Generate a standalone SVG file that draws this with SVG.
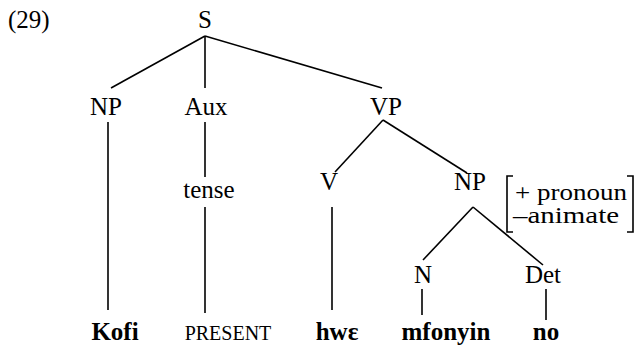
<svg xmlns="http://www.w3.org/2000/svg" width="643" height="345" viewBox="0 0 643 345">
  <style>
    text { font-size: 25px; fill: #000; }
    .lbl { text-anchor: middle; }
    .word { text-anchor: middle; font-weight: bold; }
    .sc { text-anchor: middle; font-size: 20px; }
    .feat { font-size: 23px; }
    .edge { stroke: #000; stroke-width: 1.6; fill: none; stroke-linecap: butt; }
  </style>
  <rect width="643" height="345" fill="#fff"/>

  <g font-family="'Liberation Serif', Tinos, 'DejaVu Serif', Times, serif">
  <text x="8" y="28">(29)</text>

  <!-- branches of the tree -->
  <g id="connectors">
    <line class="edge" x1="205" y1="36" x2="111" y2="88"/>
    <line class="edge" x1="205" y1="36" x2="205" y2="88"/>
    <line class="edge" x1="205" y1="36" x2="382" y2="88"/>
    <line class="edge" x1="108" y1="122" x2="108" y2="310"/>
    <line class="edge" x1="205" y1="122" x2="205" y2="177"/>
    <line class="edge" x1="205" y1="207" x2="205" y2="313"/>
    <line class="edge" x1="383" y1="120" x2="335" y2="172"/>
    <line class="edge" x1="383" y1="120" x2="467" y2="173"/>
    <line class="edge" x1="332" y1="207" x2="332" y2="310"/>
    <line class="edge" x1="473" y1="207" x2="423" y2="260"/>
    <line class="edge" x1="473" y1="207" x2="543" y2="265"/>
    <line class="edge" x1="422" y1="289" x2="422" y2="315"/>
    <line class="edge" x1="546" y1="289" x2="546" y2="320"/>
  </g>

  <g id="S"><text class="lbl" x="205" y="28">S</text></g>
  <g id="NP-subj"><text class="lbl" x="106" y="115">NP</text></g>
  <g id="Aux"><text class="lbl" x="206" y="115">Aux</text></g>
  <g id="VP"><text class="lbl" x="386" y="115">VP</text></g>
  <g id="tense"><text class="lbl" x="209" y="198">tense</text></g>
  <g id="V"><text class="lbl" x="329" y="190">V</text></g>
  <g id="NP-obj">
    <text class="lbl" x="470" y="190">NP</text>
    <!-- feature matrix brackets -->
    <path class="edge" d="M513 176 H507 V232 H513"/>
    <path class="edge" d="M627 176 H633 V232 H627"/>
    <text class="feat" x="515" y="200" textLength="112" lengthAdjust="spacingAndGlyphs">+ pronoun</text>
    <text class="feat" x="513" y="223" textLength="106" lengthAdjust="spacingAndGlyphs">–animate</text>
  </g>
  <g id="N"><text class="lbl" x="423" y="283">N</text></g>
  <g id="Det"><text class="lbl" x="543" y="283">Det</text></g>

  <g id="Kofi"><text class="word" x="115" y="340">Kofi</text></g>
  <g id="PRESENT"><text class="sc" x="228" y="340">PRESENT</text></g>
  <g id="hwe"><text class="word" x="337" y="340">hwɛ</text></g>
  <g id="mfonyin"><text class="word" x="446" y="340">mfonyin</text></g>
  <g id="no"><text class="word" x="546" y="340">no</text></g>
  </g>
</svg>
